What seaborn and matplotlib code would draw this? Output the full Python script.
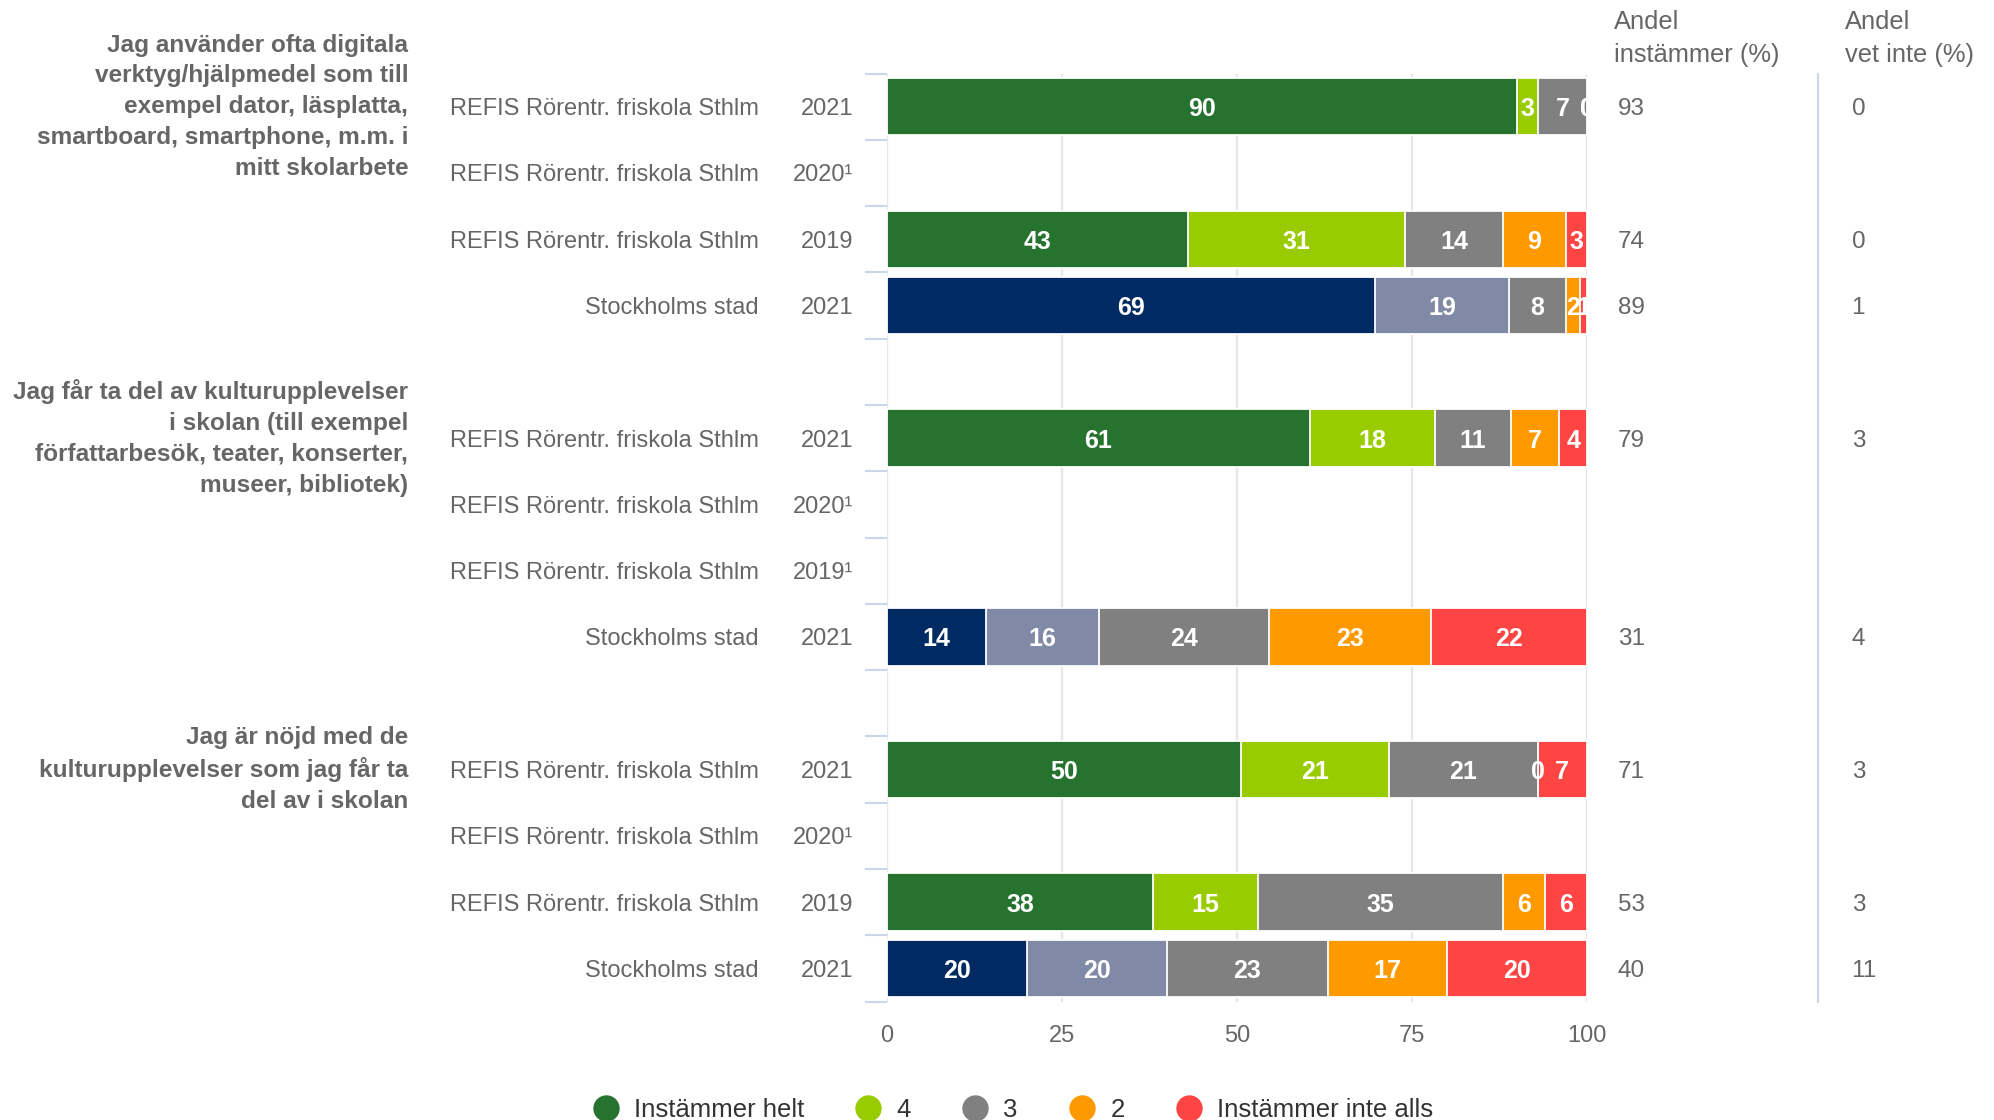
import numpy as np
import pandas as pd
import matplotlib
matplotlib.use("Agg")
import matplotlib.pyplot as plt
from matplotlib.lines import Line2D
import seaborn as sns

# frågor (en grupp om fyra rader per fråga)
questions = [
    "Jag använder ofta digitala\nverktyg/hjälpmedel som till\nexempel dator, läsplatta,\nsmartboard, smartphone, m.m. i\nmitt skolarbete",
    "Jag får ta del av kulturupplevelser\ni skolan (till exempel\nförfattarbesök, teater, konserter,\nmuseer, bibliotek)",
    "Jag är nöjd med de\nkulturupplevelser som jag får ta\ndel av i skolan",
]
units = ["REFIS Rörentr. friskola Sthlm"] * 3 + ["Stockholms stad"]
units = units * 3
years = ["2021", "2020¹", "2019", "2021",
         "2021", "2020¹", "2019¹", "2021",
         "2021", "2020¹", "2019", "2021"]
kind = ["REFIS", "REFIS", "REFIS", "Stad"] * 3

helt = [90, None, 43, 69, 61, None, None, 14, 50, None, 38, 20]
v4 = [3, None, 31, 19, 18, None, None, 16, 21, None, 15, 20]
v3 = [7, None, 14, 8, 11, None, None, 24, 21, None, 35, 23]
v2 = [0, None, 9, 2, 7, None, None, 23, 0, None, 6, 17]
inte = [0, None, 3, 1, 4, None, None, 22, 7, None, 6, 20]
andel_instammer = [93, None, 74, 89, 79, None, None, 31, 71, None, 53, 40]
andel_vet_inte = [0, None, 0, 1, 3, None, None, 4, 3, None, 3, 11]

levels = ["Instämmer helt", "4", "3", "2", "Instämmer inte alls"]
refis_colors = ["#267330", "#99cc00", "#808080", "#ff9900", "#ff4444"]
stad_colors = ["#002b62", "#8089a5", "#808080", "#ff9900", "#ff4444"]

TXT = "#666666"

# radpositioner: 4 rader per fråga + en tom rad emellan
row_pos = [q * 5 + i for q in range(3) for i in range(4)]
order = [f"r{k}" for k in range(14)]

df = pd.DataFrame({
    "row": [f"r{p}" for p in row_pos],
    "kind": kind,
    levels[0]: helt, levels[1]: v4, levels[2]: v3, levels[3]: v2, levels[4]: inte,
})
vals = df[levels].astype(float)
pct = vals.div(vals.sum(axis=1), axis=0) * 100
cum = pct.cumsum(axis=1)

sns.set_theme(style="white")
plt.rcParams["font.family"] = ["Liberation Sans", "DejaVu Sans"]

fig = plt.figure(figsize=(19.94, 11.2), dpi=100)
ax = fig.add_axes([887 / 1994, 1 - 1001.5 / 1120, 700 / 1994, 928 / 1120])

# staplade staplar: rita kumulativa summor bakifrån
for j in reversed(range(5)):
    d = df.assign(end=cum[levels[j]])
    sns.barplot(data=d, x="end", y="row", order=order, hue="kind",
                palette={"REFIS": refis_colors[j], "Stad": stad_colors[j]},
                orient="h", dodge=False, width=0.866, saturation=1,
                edgecolor="white", linewidth=1.3, errorbar=None,
                legend=False, ax=ax)

ax.set_xlim(0, 100)
ax.set_ylim(13.5, -0.5)
ax.set_xlabel("")
ax.set_ylabel("")
for s in ax.spines.values():
    s.set_visible(False)

ax.set_xticks([0, 25, 50, 75, 100])
ax.set_xticklabels(["0", "25", "50", "75", "100"])
ax.tick_params(axis="x", length=0, pad=17, labelsize=17, labelcolor=TXT)
ax.grid(axis="x", color="#e6e6e6", linewidth=1.6)
ax.grid(axis="y", visible=False)
ax.set_axisbelow(True)

ax.set_yticks([])
ax.set_yticks(np.arange(-0.5, 14, 1), minor=True)
ax.tick_params(axis="y", which="minor", length=16, width=1.5, color="#ccd6eb", left=True)

# etiketter i staplarna
for i, p in enumerate(row_pos):
    for lev in levels:
        v = vals.loc[i, lev]
        if np.isnan(v):
            continue
        xc = cum.loc[i, lev] - pct.loc[i, lev] / 2
        ax.text(xc, p, f"{int(v)}", ha="center", va="center_baseline", color="white",
                fontsize=18, fontweight="bold", clip_on=True)

ytr = ax.get_yaxis_transform()
for i, p in enumerate(row_pos):
    ax.text(-0.183, p, units[i], transform=ytr, ha="right", va="center_baseline",
            fontsize=17, color=TXT)
    ax.text(-0.0486, p, years[i], transform=ytr, ha="right", va="center_baseline",
            fontsize=17, color=TXT)
    if andel_instammer[i] is not None:
        ax.text(1.0437, p, f"{andel_instammer[i]}", transform=ytr, ha="left",
                va="center_baseline", fontsize=17.5, color=TXT)
    if andel_vet_inte[i] is not None:
        ax.text(1.378, p, f"{andel_vet_inte[i]}", transform=ytr, ha="left",
                va="center_baseline", fontsize=17.5, color=TXT)

for q, text in enumerate(questions):
    ax.text(-0.684, q * 5, text, transform=ytr, ha="right", va="center",
            multialignment="right", fontsize=17.6, fontweight="bold", color=TXT,
            linespacing=1.43)

ax.plot([1.3307, 1.3307], [0, 1], transform=ax.transAxes, clip_on=False,
        color="#ccd6eb", linewidth=1.5)

fig.text(1614 / 1994, 1 - 38.5 / 1120, "Andel\ninstämmer (%)", ha="left", va="center",
         fontsize=18.4, color=TXT, linespacing=1.47)
fig.text(1845 / 1994, 1 - 38.5 / 1120, "Andel\nvet inte (%)", ha="left", va="center",
         fontsize=18.4, color=TXT, linespacing=1.47)

handles = [Line2D([0], [0], marker="o", linestyle="", markersize=18,
                  markerfacecolor=c, markeredgecolor=c) for c in refis_colors]
fig.legend(handles, levels, loc="center", bbox_to_anchor=(0.508, 0.009), ncol=5,
           frameon=False, fontsize=18.5, labelcolor="#333333", handlelength=1.0,
           handletextpad=0.6, columnspacing=2.0, borderpad=0)

fig.savefig("out.png", dpi=100)
